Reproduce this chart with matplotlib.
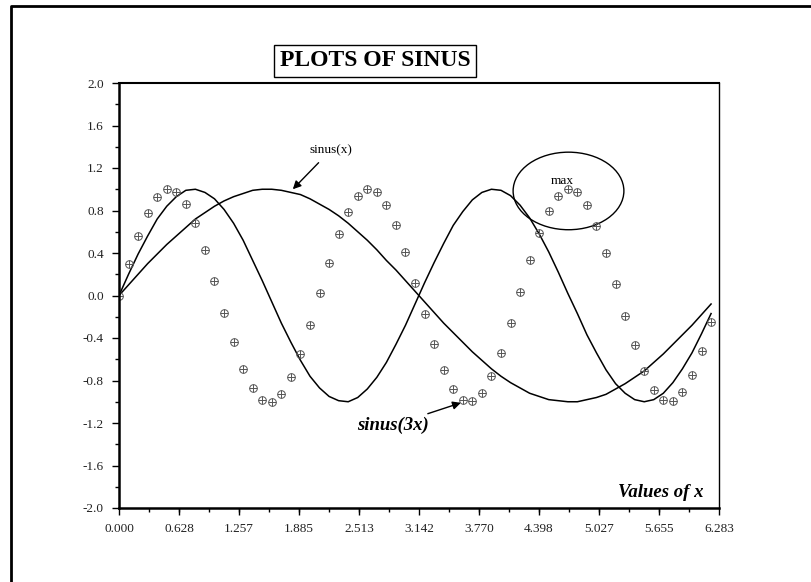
import matplotlib
matplotlib.use("Agg")
import matplotlib.pyplot as plt
import matplotlib.patches as patches
from matplotlib.lines import Line2D
from matplotlib.ticker import MultipleLocator

plt.rcParams['font.family'] = ['Liberation Serif', 'DejaVu Serif']

# sample points (step 0.1 along x)
x_vals = [0.0, 0.1, 0.2, 0.3, 0.4, 0.5, 0.6, 0.7, 0.8, 0.9,
          1.0, 1.1, 1.2, 1.3, 1.4, 1.5, 1.6, 1.7, 1.8, 1.9,
          2.0, 2.1, 2.2, 2.3, 2.4, 2.5, 2.6, 2.7, 2.8, 2.9,
          3.0, 3.1, 3.2, 3.3, 3.4, 3.5, 3.6, 3.7, 3.8, 3.9,
          4.0, 4.1, 4.2, 4.3, 4.4, 4.5, 4.6, 4.7, 4.8, 4.9,
          5.0, 5.1, 5.2, 5.3, 5.4, 5.5, 5.6, 5.7, 5.8, 5.9,
          6.0, 6.1, 6.2]

sin_x = [0.00, 0.10, 0.20, 0.30, 0.39, 0.48, 0.56, 0.64, 0.72, 0.78,
         0.84, 0.89, 0.93, 0.96, 0.99, 1.00, 1.00, 0.99, 0.97, 0.95,
         0.91, 0.86, 0.81, 0.75, 0.68, 0.60, 0.52, 0.43, 0.33, 0.24,
         0.14, 0.04, -0.06, -0.16, -0.26, -0.35, -0.44, -0.53, -0.61, -0.69,
         -0.76, -0.82, -0.87, -0.92, -0.95, -0.98, -0.99, -1.00, -1.00, -0.98,
         -0.96, -0.93, -0.88, -0.83, -0.77, -0.71, -0.63, -0.55, -0.46, -0.37,
         -0.28, -0.18, -0.08]

sin_2x = [0.00, 0.20, 0.39, 0.56, 0.72, 0.84, 0.93, 0.99, 1.00, 0.97,
          0.91, 0.81, 0.68, 0.52, 0.33, 0.14, -0.06, -0.26, -0.44, -0.61,
          -0.76, -0.87, -0.95, -0.99, -1.00, -0.96, -0.88, -0.77, -0.63, -0.46,
          -0.28, -0.08, 0.12, 0.31, 0.49, 0.66, 0.79, 0.90, 0.97, 1.00,
          0.99, 0.94, 0.85, 0.73, 0.58, 0.41, 0.22, 0.02, -0.17, -0.37,
          -0.54, -0.70, -0.83, -0.92, -0.98, -1.00, -0.98, -0.92, -0.82, -0.69,
          -0.54, -0.36, -0.17]

sin_3x = [0.00, 0.30, 0.56, 0.78, 0.93, 1.00, 0.97, 0.86, 0.68, 0.43,
          0.14, -0.16, -0.44, -0.69, -0.87, -0.98, -1.00, -0.93, -0.77, -0.55,
          -0.28, 0.02, 0.31, 0.58, 0.79, 0.94, 1.00, 0.97, 0.85, 0.66,
          0.41, 0.12, -0.17, -0.46, -0.70, -0.88, -0.98, -0.99, -0.92, -0.76,
          -0.54, -0.26, 0.03, 0.33, 0.59, 0.80, 0.94, 1.00, 0.97, 0.85,
          0.65, 0.40, 0.11, -0.19, -0.47, -0.71, -0.89, -0.98, -0.99, -0.91,
          -0.75, -0.52, -0.25]

x_tick_labels = ['0.000', '0.628', '1.257', '1.885', '2.513', '3.142',
                 '3.770', '4.398', '5.027', '5.655', '6.283']
y_tick_labels = ['-2.0', '-1.6', '-1.2', '-0.8', '-0.4', '0.0',
                 '0.4', '0.8', '1.2', '1.6', '2.0']

fig = plt.figure(figsize=(8.12, 5.82), dpi=100)
ax = fig.add_axes([119/812, 74/582, 600/812, 425/582])

ax.plot(x_vals, sin_x, color='black', lw=1.1)
ax.plot(x_vals, sin_2x, color='black', lw=1.1)
ax.plot(x_vals, sin_3x, 'o', ms=5.5, mfc='none', mec='#555555', mew=0.7)
ax.plot(x_vals, sin_3x, '+', ms=5.5, color='#555555', mew=0.7)

ax.set_xlim(0, 6.283)
ax.set_ylim(-2, 2)
ax.set_xticks([float(s) for s in x_tick_labels])
ax.set_xticklabels(x_tick_labels)
ax.set_yticks([float(s) for s in y_tick_labels])
ax.set_yticklabels(y_tick_labels)
ax.xaxis.set_minor_locator(MultipleLocator(0.3142))
ax.yaxis.set_minor_locator(MultipleLocator(0.2))
ax.tick_params(which='major', direction='out', length=5, width=1,
               labelsize=9.5, pad=6, colors='black')
ax.tick_params(which='minor', direction='out', length=3, width=1)
ax.tick_params(axis='both', labelcolor='#222222')
ax.spines['bottom'].set_linewidth(1.8)
ax.spines['left'].set_linewidth(1.8)
ax.spines['top'].set_linewidth(1.5)
ax.spines['right'].set_linewidth(1.0)

ax.text(6.12, -1.93, 'Values of x', ha='right', va='bottom',
        fontsize=13.5, fontweight='bold', fontstyle='italic')

ax.annotate('sinus(x)', xy=(1.82, 1.00), xytext=(2.22, 1.37),
            ha='center', va='center', fontsize=9.5,
            arrowprops=dict(arrowstyle='-|>', color='black', lw=1,
                            mutation_scale=12, shrinkA=4, shrinkB=0))
ax.annotate('sinus(3x)', xy=(3.58, -1.01), xytext=(2.87, -1.22),
            ha='center', va='center', fontsize=13.5,
            fontweight='bold', fontstyle='italic',
            arrowprops=dict(arrowstyle='-|>', color='black', lw=1,
                            mutation_scale=12, shrinkA=0, shrinkB=0))

ax.add_patch(patches.Ellipse((4.707, 0.984), 1.16, 0.73, fill=False,
                             edgecolor='black', lw=1))
ax.text(4.644, 1.078, 'max', ha='center', va='center', fontsize=9.5)

fig.text(375/812, 1 - 61/582, 'PLOTS OF SINUS', ha='center', va='center',
         fontsize=17, fontweight='bold',
         bbox=dict(boxstyle='square,pad=0.22', facecolor='white',
                   edgecolor='black', lw=1))

# page frame, only top and left edges fall inside the picture
fig.add_artist(Line2D([11/812, 11/812, 1.0], [0.0, 1 - 6/582, 1 - 6/582],
                      transform=fig.transFigure, color='black', lw=2))

fig.savefig('out.png', dpi=100)
